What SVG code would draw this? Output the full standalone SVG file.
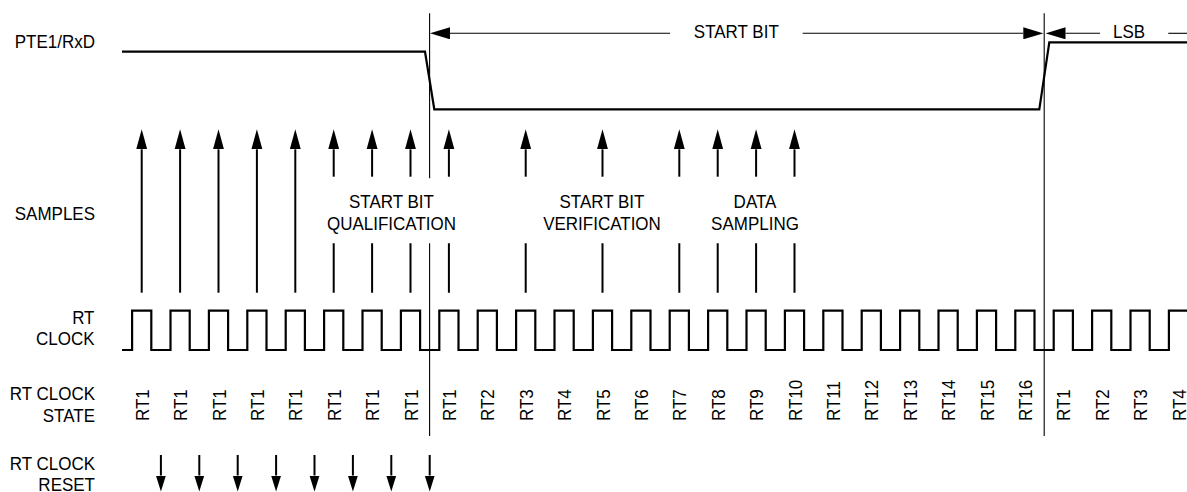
<svg xmlns="http://www.w3.org/2000/svg" width="1187" height="492" viewBox="0 0 1187 492">
<style>
  text { font-family: "Liberation Sans", Arial, Helvetica, sans-serif; font-size: 17px; fill: #000; }
  .e { text-anchor: end; }
  .m { text-anchor: middle; }
  .thick { stroke: #000; stroke-width: 2.2; fill: none; }
  .shaft { stroke: #000; stroke-width: 2; fill: none; }
  .thin { stroke: #000; stroke-width: 1.1; fill: none; }
</style>
<defs>
  <marker id="headL" markerUnits="userSpaceOnUse" markerWidth="20" markerHeight="12" refX="0" refY="5.5" orient="auto" viewBox="0 0 20 11">
    <path d="M0,0 L20,5.5 L0,11 Z" fill="#000"/>
  </marker>
  <marker id="headS" markerUnits="userSpaceOnUse" markerWidth="16" markerHeight="11" refX="0" refY="5" orient="auto" viewBox="0 0 16 10">
    <path d="M0,0 L16,5 L0,10 Z" fill="#000"/>
  </marker>
  <marker id="headD" markerUnits="userSpaceOnUse" markerWidth="20" markerHeight="12" refX="0" refY="6" orient="auto" viewBox="0 0 20 12">
    <path d="M0,0 L20,6 L0,12 Z" fill="#000"/>
  </marker>
</defs>

<g id="row-labels">
  <text class="e" transform="translate(95,47.5) scale(1,1.12)">PTE1/RxD</text>
  <text class="e" transform="translate(95,220) scale(1,1.12)">SAMPLES</text>
  <text class="e" transform="translate(94.5,324) scale(1,1.12)">RT</text>
  <text class="e" transform="translate(94.5,345) scale(1,1.12)">CLOCK</text>
  <text class="e" transform="translate(95,400) scale(1,1.12)">RT CLOCK</text>
  <text class="e" transform="translate(95,421.7) scale(1,1.12)">STATE</text>
  <text class="e" transform="translate(95,469.5) scale(1,1.12)">RT CLOCK</text>
  <text class="e" transform="translate(95,490.7) scale(1,1.12)">RESET</text>
</g>

<g id="bit-boundaries">
  <path class="thin" d="M429.6,13.3 V178.3 M429.6,243.3 V436"/>
  <path class="thin" d="M1044.2,13.3 V436"/>
</g>

<g id="dimension-start-bit">
  <line class="thin" x1="670" y1="33.3" x2="450" y2="33.3" marker-end="url(#headD)"/>
  <line class="thin" x1="802.7" y1="33.3" x2="1023.3" y2="33.3" marker-end="url(#headD)"/>
  <text class="m" transform="translate(736.3,38.3) scale(1,1.12)">START BIT</text>
</g>

<g id="dimension-lsb">
  <line class="thin" x1="1100" y1="33.3" x2="1065.5" y2="33.3" marker-end="url(#headD)"/>
  <line class="thin" x1="1168.3" y1="33.3" x2="1187" y2="33.3"/>
  <text class="m" transform="translate(1129,38.3) scale(1,1.12)">LSB</text>
</g>

<g id="rxd-signal">
  <path class="thick" d="M122,51.7 L425,51.7 L434.3,109.3 L1039.3,109.3 L1049.3,42.3 L1187,42.3"/>
</g>

<g id="sample-labels">
  <text class="m" transform="translate(391.5,208.3) scale(1,1.12)">START BIT</text>
  <text class="m" transform="translate(391.5,229.5) scale(1,1.12)">QUALIFICATION</text>
  <text class="m" transform="translate(602,208.3) scale(1,1.12)">START BIT</text>
  <text class="m" transform="translate(602,229.5) scale(1,1.12)">VERIFICATION</text>
  <text class="m" transform="translate(755,208.3) scale(1,1.12)">DATA</text>
  <text class="m" transform="translate(755,229.5) scale(1,1.12)">SAMPLING</text>
</g>

<g id="connectors">
  <g id="sample-arrows">
    <line class="shaft" x1="141.7" y1="292.7" x2="141.7" y2="149.3" marker-end="url(#headL)"/>
    <line class="shaft" x1="180.1" y1="292.7" x2="180.1" y2="149.3" marker-end="url(#headL)"/>
    <line class="shaft" x1="218.5" y1="292.7" x2="218.5" y2="149.3" marker-end="url(#headL)"/>
    <line class="shaft" x1="256.9" y1="292.7" x2="256.9" y2="149.3" marker-end="url(#headL)"/>
    <line class="shaft" x1="295.3" y1="292.7" x2="295.3" y2="149.3" marker-end="url(#headL)"/>
    <line class="shaft" x1="333.7" y1="176.7" x2="333.7" y2="149.3" marker-end="url(#headL)"/>
    <line class="shaft" x1="372.1" y1="176.7" x2="372.1" y2="149.3" marker-end="url(#headL)"/>
    <line class="shaft" x1="410.5" y1="176.7" x2="410.5" y2="149.3" marker-end="url(#headL)"/>
    <line class="shaft" x1="448.9" y1="176.7" x2="448.9" y2="149.3" marker-end="url(#headL)"/>
    <line class="shaft" x1="525.7" y1="176.7" x2="525.7" y2="149.3" marker-end="url(#headL)"/>
    <line class="shaft" x1="602.5" y1="176.7" x2="602.5" y2="149.3" marker-end="url(#headL)"/>
    <line class="shaft" x1="679.3" y1="176.7" x2="679.3" y2="149.3" marker-end="url(#headL)"/>
    <line class="shaft" x1="717.7" y1="176.7" x2="717.7" y2="149.3" marker-end="url(#headL)"/>
    <line class="shaft" x1="756.1" y1="176.7" x2="756.1" y2="149.3" marker-end="url(#headL)"/>
    <line class="shaft" x1="794.5" y1="176.7" x2="794.5" y2="149.3" marker-end="url(#headL)"/>
    <path class="shaft" d="M333.7,243.3 V292.7 M372.1,243.3 V292.7 M410.5,243.3 V292.7 M448.9,243.3 V292.7 M525.7,243.3 V292.7 M602.5,243.3 V292.7 M679.3,243.3 V292.7 M717.7,243.3 V292.7 M756.1,243.3 V292.7 M794.5,243.3 V292.7"/>
  </g>
  <g id="reset-arrows">
    <line class="shaft" x1="160.9" y1="455" x2="160.9" y2="475.5" marker-end="url(#headS)"/>
    <line class="shaft" x1="199.3" y1="455" x2="199.3" y2="475.5" marker-end="url(#headS)"/>
    <line class="shaft" x1="237.7" y1="455" x2="237.7" y2="475.5" marker-end="url(#headS)"/>
    <line class="shaft" x1="276.1" y1="455" x2="276.1" y2="475.5" marker-end="url(#headS)"/>
    <line class="shaft" x1="314.5" y1="455" x2="314.5" y2="475.5" marker-end="url(#headS)"/>
    <line class="shaft" x1="352.9" y1="455" x2="352.9" y2="475.5" marker-end="url(#headS)"/>
    <line class="shaft" x1="391.3" y1="455" x2="391.3" y2="475.5" marker-end="url(#headS)"/>
    <line class="shaft" x1="429.7" y1="455" x2="429.7" y2="475.5" marker-end="url(#headS)"/>
  </g>
</g>

<g id="rt-clock">
  <path class="thick" d="M122,350 H132.1 V310.7 H151.3 V350 H170.5 V310.7 H189.7 V350 H208.9 V310.7 H228.1 V350 H247.3 V310.7 H266.5 V350 H285.7 V310.7 H304.9 V350 H324.1 V310.7 H343.3 V350 H362.5 V310.7 H381.7 V350 H400.9 V310.7 H420.1 V350 H439.3 V310.7 H458.5 V350 H477.7 V310.7 H496.9 V350 H516.1 V310.7 H535.3 V350 H554.5 V310.7 H573.7 V350 H592.9 V310.7 H612.1 V350 H631.3 V310.7 H650.5 V350 H669.7 V310.7 H688.9 V350 H708.1 V310.7 H727.3 V350 H746.5 V310.7 H765.7 V350 H784.9 V310.7 H804.1 V350 H823.3 V310.7 H842.5 V350 H861.7 V310.7 H880.9 V350 H900.1 V310.7 H919.3 V350 H938.5 V310.7 H957.7 V350 H976.9 V310.7 H996.1 V350 H1015.3 V310.7 H1034.5 V350 H1053.7 V310.7 H1072.9 V350 H1092.1 V310.7 H1111.3 V350 H1130.5 V310.7 H1149.7 V350 H1168.9 V310.7 H1187"/>
</g>

<g id="rt-clock-states">
  <text transform="translate(148.7,421) rotate(-90) scale(1,1.12)">RT1</text>
  <text transform="translate(187.1,421) rotate(-90) scale(1,1.12)">RT1</text>
  <text transform="translate(225.5,421) rotate(-90) scale(1,1.12)">RT1</text>
  <text transform="translate(263.9,421) rotate(-90) scale(1,1.12)">RT1</text>
  <text transform="translate(302.3,421) rotate(-90) scale(1,1.12)">RT1</text>
  <text transform="translate(340.7,421) rotate(-90) scale(1,1.12)">RT1</text>
  <text transform="translate(379.1,421) rotate(-90) scale(1,1.12)">RT1</text>
  <text transform="translate(417.5,421) rotate(-90) scale(1,1.12)">RT1</text>
  <text transform="translate(455.9,421) rotate(-90) scale(1,1.12)">RT1</text>
  <text transform="translate(494.3,421) rotate(-90) scale(1,1.12)">RT2</text>
  <text transform="translate(532.7,421) rotate(-90) scale(1,1.12)">RT3</text>
  <text transform="translate(571.1,421) rotate(-90) scale(1,1.12)">RT4</text>
  <text transform="translate(609.5,421) rotate(-90) scale(1,1.12)">RT5</text>
  <text transform="translate(647.9,421) rotate(-90) scale(1,1.12)">RT6</text>
  <text transform="translate(686.3,421) rotate(-90) scale(1,1.12)">RT7</text>
  <text transform="translate(724.7,421) rotate(-90) scale(1,1.12)">RT8</text>
  <text transform="translate(763.1,421) rotate(-90) scale(1,1.12)">RT9</text>
  <text transform="translate(801.5,421) rotate(-90) scale(1,1.12)">RT10</text>
  <text transform="translate(839.9,421) rotate(-90) scale(1,1.12)">RT11</text>
  <text transform="translate(878.3,421) rotate(-90) scale(1,1.12)">RT12</text>
  <text transform="translate(916.7,421) rotate(-90) scale(1,1.12)">RT13</text>
  <text transform="translate(955.1,421) rotate(-90) scale(1,1.12)">RT14</text>
  <text transform="translate(993.5,421) rotate(-90) scale(1,1.12)">RT15</text>
  <text transform="translate(1031.9,421) rotate(-90) scale(1,1.12)">RT16</text>
  <text transform="translate(1070.3,421) rotate(-90) scale(1,1.12)">RT1</text>
  <text transform="translate(1108.7,421) rotate(-90) scale(1,1.12)">RT2</text>
  <text transform="translate(1147.1,421) rotate(-90) scale(1,1.12)">RT3</text>
  <text transform="translate(1185.5,421) rotate(-90) scale(1,1.12)">RT4</text>
</g>
</svg>
